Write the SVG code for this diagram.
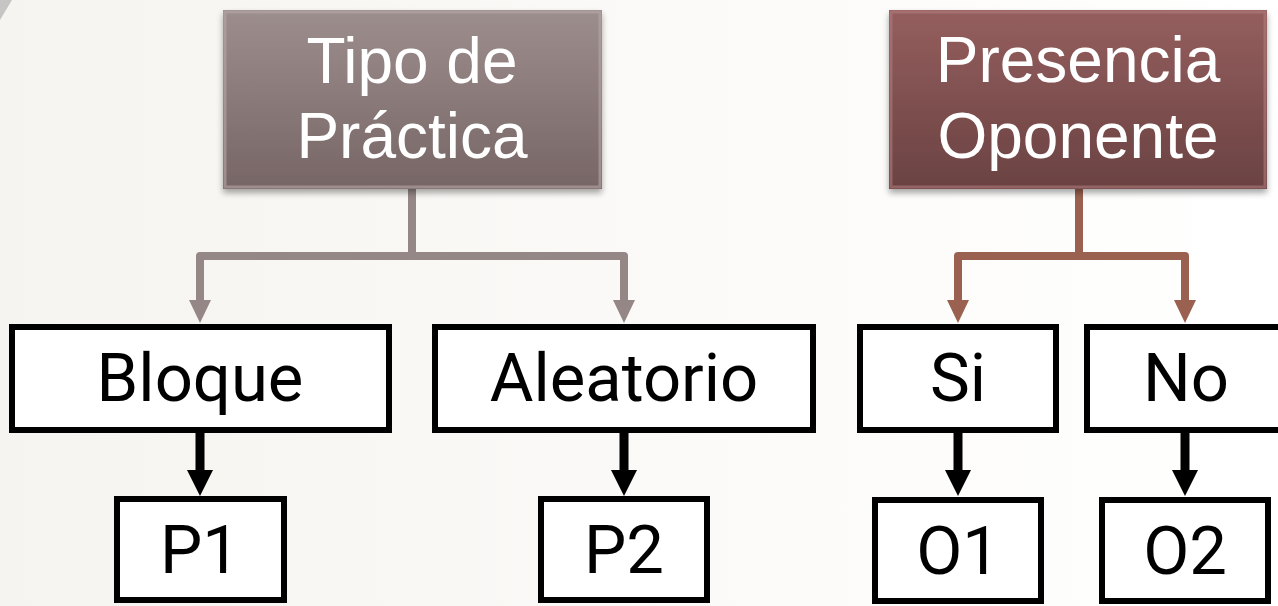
<svg xmlns="http://www.w3.org/2000/svg" width="1278" height="606" viewBox="0 0 1278 606">
<defs>
  <linearGradient id="bg" x1="0" y1="0" x2="1" y2="0">
    <stop offset="0" stop-color="#f5f4f0"/>
    <stop offset="0.55" stop-color="#fbfaf8"/>
    <stop offset="1" stop-color="#ffffff"/>
  </linearGradient>
  <linearGradient id="gTipo" x1="0" y1="0" x2="0" y2="1">
    <stop offset="0" stop-color="#9d8e8e"/>
    <stop offset="1" stop-color="#776565"/>
  </linearGradient>
  <linearGradient id="gPres" x1="0" y1="0" x2="0" y2="1">
    <stop offset="0" stop-color="#955e5e"/>
    <stop offset="1" stop-color="#6a4242"/>
  </linearGradient>
  <filter id="sh" x="-10%" y="-10%" width="120%" height="130%">
    <feGaussianBlur in="SourceAlpha" stdDeviation="3"/>
    <feOffset dx="0" dy="4"/>
    <feComponentTransfer><feFuncA type="linear" slope="0.35"/></feComponentTransfer>
    <feMerge><feMergeNode/><feMergeNode in="SourceGraphic"/></feMerge>
  </filter>
</defs>
<style>
  .head { font-family: "Liberation Sans", Arial, sans-serif; font-size: 64px; fill: #ffffff; text-anchor: middle; }
  .lbl { font-family: Roboto, "Liberation Sans", sans-serif; font-size: 67px; fill: #000; text-anchor: middle; }
  .wbox { fill: #ffffff; stroke: #000; stroke-width: 6; }
  .cg { fill: none; stroke: #968787; stroke-width: 8; stroke-linejoin: round; stroke-linecap: round; }
  .cb { fill: none; stroke: #9a6150; stroke-width: 8; stroke-linejoin: round; stroke-linecap: round; }
  .ck { fill: none; stroke: #000; stroke-width: 9; }
  .hg { fill: #968787; }
  .hb { fill: #9a6150; }
  .hk { fill: #000; }
</style>
<rect x="0" y="0" width="1278" height="606" fill="url(#bg)"/>
<path d="M0,0 L12,0 Q6,10 0,20 Z" fill="#c6c5c3"/>

<g id="connectors">
  <path class="cg" d="M412,190 L412,256 M200,302 L200,256 L624,256 L624,302"/>
  <polygon class="hg" points="189,300 211,300 200,323"/>
  <polygon class="hg" points="613,300 635,300 624,323"/>
  <path class="cb" d="M1079,190 L1079,256 M958,302 L958,256 L1185,256 L1185,302"/>
  <polygon class="hb" points="947,300 969,300 958,323"/>
  <polygon class="hb" points="1174,300 1196,300 1185,323"/>
  <path class="ck" d="M200,433 L200,472 M624,433 L624,472 M958,433 L958,472 M1185,433 L1185,472"/>
  <polygon class="hk" points="187,470 213,470 200,496"/>
  <polygon class="hk" points="611,470 637,470 624,496"/>
  <polygon class="hk" points="945,470 971,470 958,496"/>
  <polygon class="hk" points="1172,470 1198,470 1185,496"/>
</g>

<g id="tipo">
  <rect x="223" y="10" width="379" height="179" fill="url(#gTipo)" filter="url(#sh)"/>
  <rect x="225" y="12" width="375" height="175" fill="none" stroke="#b8a8a8" stroke-width="3" opacity="0.6"/>
  <text class="head" x="412" y="83">Tipo de</text>
  <text class="head" x="412" y="158">Práctica</text>
</g>
<g id="presencia">
  <rect x="889" y="10" width="378" height="179" fill="url(#gPres)" filter="url(#sh)"/>
  <rect x="891" y="12" width="374" height="175" fill="none" stroke="#b07c7c" stroke-width="3" opacity="0.6"/>
  <text class="head" x="1078" y="82">Presencia</text>
  <text class="head" x="1078" y="158">Oponente</text>
</g>

<g id="bloque">
  <rect class="wbox" x="12" y="327" width="377" height="103"/>
  <text class="lbl" x="200" y="401">Bloque</text>
</g>
<g id="aleatorio">
  <rect class="wbox" x="435" y="327" width="378" height="103"/>
  <text class="lbl" x="624" y="401">Aleatorio</text>
</g>
<g id="si">
  <rect class="wbox" x="860" y="327" width="196" height="103"/>
  <text class="lbl" x="958" y="401">Si</text>
</g>
<g id="no">
  <rect class="wbox" x="1087" y="327" width="200" height="103"/>
  <text class="lbl" x="1186" y="401">No</text>
</g>
<g id="p1">
  <rect class="wbox" x="117" y="499" width="167" height="101"/>
  <text class="lbl" x="200" y="573">P1</text>
</g>
<g id="p2">
  <rect class="wbox" x="541" y="499" width="166" height="101"/>
  <text class="lbl" x="624" y="573">P2</text>
</g>
<g id="o1">
  <rect class="wbox" x="875" y="500" width="166" height="101"/>
  <text class="lbl" x="958" y="574">O1</text>
</g>
<g id="o2">
  <rect class="wbox" x="1102" y="500" width="166" height="101"/>
  <text class="lbl" x="1185" y="574">O2</text>
</g>
</svg>
